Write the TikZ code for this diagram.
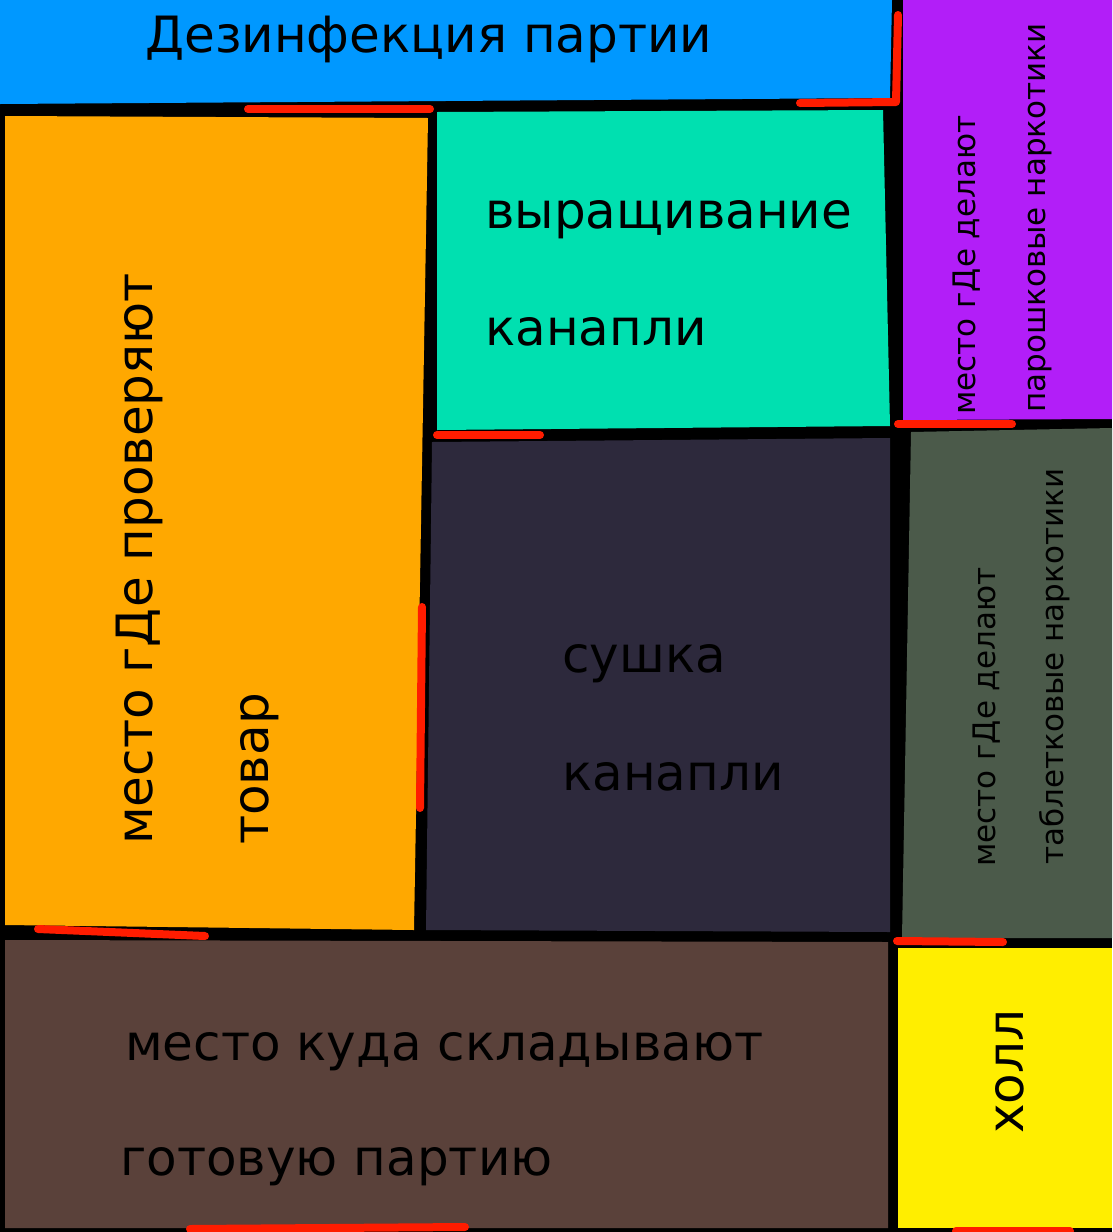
\documentclass[tikz,border=0pt]{standalone}
\usepackage{fontspec}
\setmainfont{DejaVu Sans}
\usepackage{tikz}
\definecolor{dezblue}{RGB}{0,152,255}
\definecolor{checkorange}{RGB}{255,168,0}
\definecolor{growteal}{RGB}{0,224,176}
\definecolor{drynavy}{RGB}{45,41,60}
\definecolor{powderpurple}{RGB}{178,30,248}
\definecolor{pillgreen}{RGB}{75,90,74}
\definecolor{storebrown}{RGB}{90,65,58}
\definecolor{hallyellow}{RGB}{255,238,0}
\definecolor{markred}{RGB}{255,28,0}
\tikzset{>=latex}

\begin{document}
\begin{tikzpicture}[x=1pt,y=-1pt]
\useasboundingbox (0,0) rectangle (1112,1232);
\fill[black] (0,0) rectangle (1112,1232);
% rooms
\fill[dezblue] (0,0) -- (892,0) -- (890,98) -- (0,104) -- cycle;
\fill[checkorange] (5,116) -- (428,118) -- (414,930) -- (5,925) -- cycle;
\fill[growteal] (437,112) -- (883,110) -- (890,426) -- (437,430) -- cycle;
\fill[drynavy] (432,442) -- (890,438) -- (890,932) -- (426,930) -- cycle;
\fill[powderpurple] (903,0) -- (1112,0) -- (1112,419) -- (903,420) -- cycle;
\fill[pillgreen] (911,432) -- (1112,428) -- (1112,938) -- (902,938) -- cycle;
\fill[storebrown] (5,940) -- (888,942) -- (888,1228) -- (5,1228) -- cycle;
\fill[hallyellow] (898,948) -- (1112,948) -- (1112,1228) -- (898,1228) -- cycle;

\begin{scope}[every node/.style={inner sep=0pt,anchor=base west,text=black,
        font=\fontsize{50}{58}\selectfont}]
\node (dez) at (145,52) {Дезинфекция партии};
\node (grow1) at (485,228) {выращивание};
\node (grow2) at (485,345) {канапли};
\node (dry1) at (562,672) {сушка};
\node (dry2) at (562,790) {канапли};
\node (store1) at (125,1060) {место куда складывают};
\node (store2) at (120,1175) {готовую партию};
\node[rotate=90] (check1) at (152,845) {место гДе проверяют};
\node[rotate=90] (check2) at (268,845) {товар};
\node[rotate=90] (hall) at (1023,1134) {холл};
\end{scope}

\begin{scope}[every node/.style={inner sep=0pt,anchor=base west,text=black,rotate=90,
        font=\fontsize{31}{37}\selectfont}]
\node (powder1) at (975,415) {место гДе делают};
\node (powder2) at (1045,413) {парошковые наркотики};
\node (pill1) at (995,867) {место гДе делают};
\node (pill2) at (1063,865) {таблетковые наркотики};
\end{scope}

% red marks
\begin{scope}[markred,line width=8pt,line cap=round,line join=round]
\draw (248,109) -- (430,109);
\draw (800,103) -- (896,102) -- (898,15);
\draw (437,435) -- (540,435);
\draw (898,424) -- (1012,424);
\draw (422,607) -- (420,808);
\draw (38,929) -- (205,936);
\draw (897,941) -- (1003,942);
\draw (190,1229) -- (465,1227);
\draw (956,1231) -- (1070,1231);
\end{scope}
\end{tikzpicture}
\end{document}
